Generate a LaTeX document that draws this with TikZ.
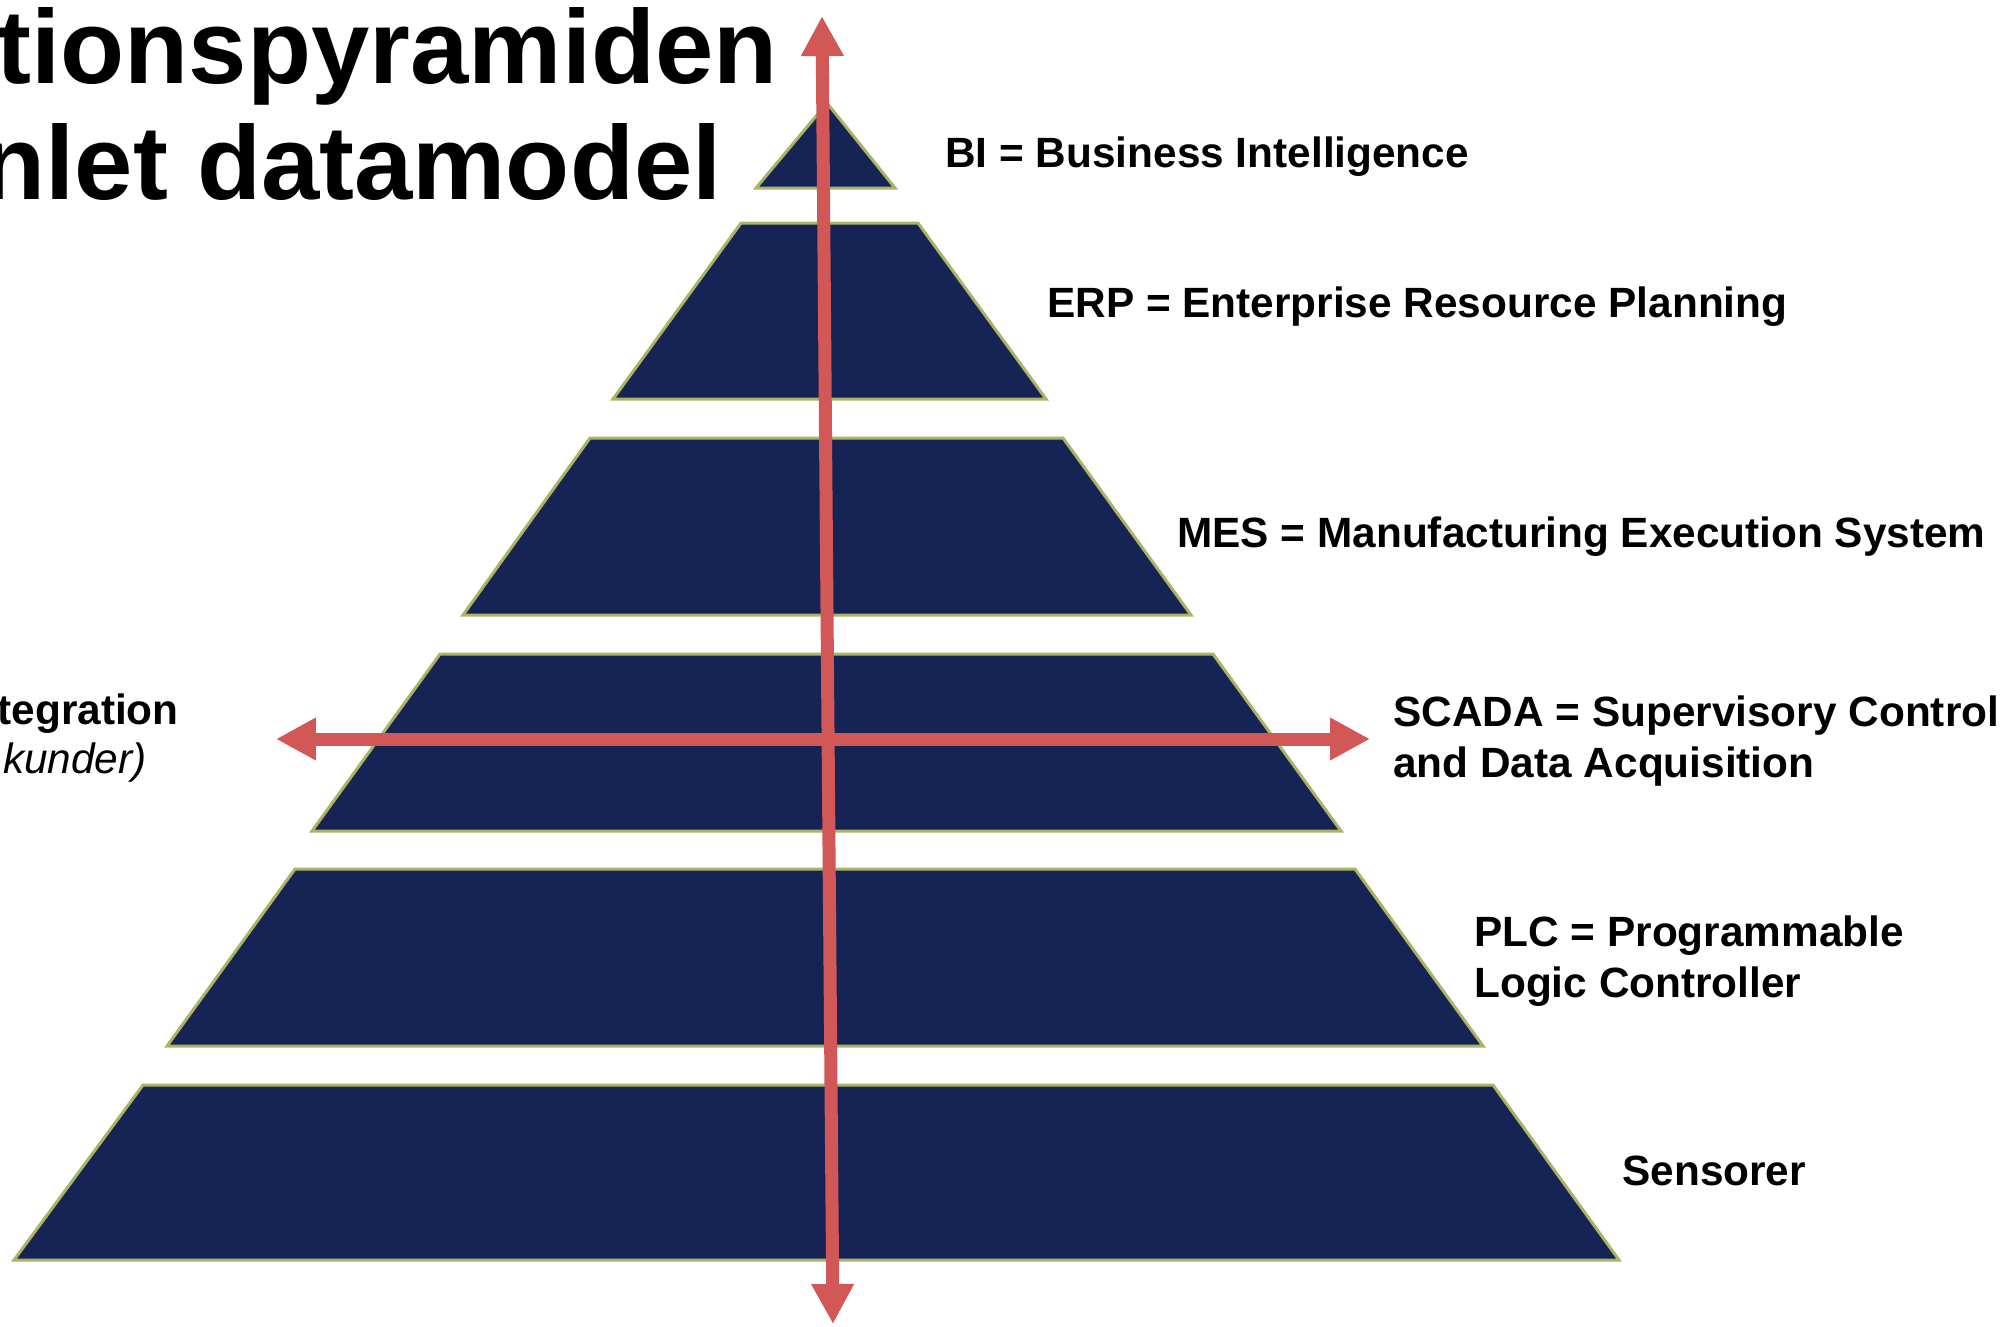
\documentclass[tikz,border=0pt]{standalone}
\usepackage{fontspec}
\setmainfont{Liberation Sans}
\usetikzlibrary{arrows.meta}
\definecolor{tiernavy}{RGB}{22,36,85}
\definecolor{tieredge}{RGB}{170,180,100}
\definecolor{axisred}{RGB}{209,88,86}

\begin{document}
\begin{tikzpicture}[x=0.02cm, y=-0.02cm,
    tier/.style={fill=tiernavy, draw=tieredge, line width=1.7pt, line join=miter},
    label/.style={anchor=base west, inner sep=0pt, align=left,
        font=\fontsize{24.1}{29}\selectfont\bfseries},
    headline/.style={anchor=base east, inner sep=0pt,
        font=\fontsize{59.7}{66}\selectfont\bfseries},
    axis/.style={draw=axisred, line width=0.26cm,
        {Triangle[length=0.8cm,width=0.8cm]}-{Triangle[length=0.8cm,width=0.8cm]}}]
    \useasboundingbox (0,0) rectangle (2010,1326);

    % title, running off the left edge
    \node[headline] (head1) at (778,83) {tionspyramiden};
    \node[headline] (head2) at (722,199) {nlet datamodel};

    % the six layers, top to bottom
    \draw[tier] (827,103) -- (895,188) -- (756,188) -- cycle;
    \draw[tier] (741,223) -- (918,223) -- (1046,399) -- (613,399) -- cycle;
    \draw[tier] (590,438) -- (1063,438) -- (1191,615) -- (463,615) -- cycle;
    \draw[tier] (440,654) -- (1213,654) -- (1341,831) -- (312,831) -- cycle;
    \draw[tier] (295,869) -- (1355,869) -- (1483,1046) -- (167,1046) -- cycle;
    \draw[tier] (143,1085) -- (1493,1085) -- (1619,1260) -- (14,1260) -- cycle;

    % layer names (two-line ones sit on their last line)
    \node[label] (bi) at (945,167) {BI = Business Intelligence};
    \node[label] (erp) at (1047,317) {ERP = Enterprise Resource Planning};
    \node[label] (mes) at (1177,547) {MES = Manufacturing Execution System};
    \node[label] (scada) at (1393,777) {SCADA = Supervisory Control\\and Data Acquisition};
    \node[label] (plc) at (1474,997) {PLC = Programmable\\Logic Controller};
    \node[label] (sens) at (1622,1185) {Sensorer};

    % left side note
    \node[label, anchor=base east] (horiz) at (179,724) {tegration};
    \node[label, anchor=base east, font=\fontsize{24.1}{29}\selectfont\itshape] (horiz2) at (147,773) {kunder)};

    % integration axes
    \coordinate (axtop) at (822,16);
    \coordinate (axbot) at (833,1324);
    \coordinate (axleft) at (276,739);
    \coordinate (axright) at (1370,739);
    \draw[axis] (axleft) -- (axright);
    \draw[axis] (axbot) -- (axtop);
\end{tikzpicture}
\end{document}
